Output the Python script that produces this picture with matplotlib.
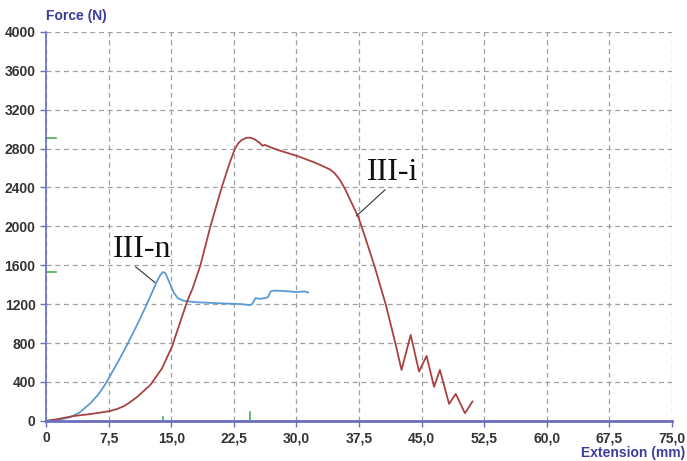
import matplotlib.pyplot as plt
import numpy as np

# curve III-n (blue)
ext_n = [0, 1.5, 2.9, 4.0, 5.3, 6.2, 6.9, 7.6, 8.9, 9.7, 10.7, 11.7, 12.5, 13.26, 13.7,
         14.0, 14.3, 14.8, 15.3, 15.8, 16.5, 18.0, 20.0, 22.0, 23.5, 24.4, 24.7, 25.1,
         25.6, 26.2, 26.6, 26.9, 27.3, 28.5, 30.0, 31.0, 31.4]
force_n = [0, 12, 38, 85, 180, 265, 350, 450, 650, 780, 950, 1130, 1280, 1430, 1500,
           1530, 1520, 1420, 1320, 1260, 1235, 1220, 1212, 1205, 1200, 1190, 1200, 1262,
           1255, 1262, 1272, 1330, 1340, 1335, 1325, 1330, 1320]

# curve III-i (red)
ext_i = [0, 1.5, 3.3, 5.3, 7.6, 8.5, 9.3, 9.9, 10.9, 12.5, 13.9, 15.1, 15.9, 16.9, 17.6,
         18.5, 19.7, 21.05, 22.0, 22.6, 23.0, 23.4, 24.0, 24.5, 25.0, 25.6, 25.95, 26.2,
         27.0, 28.0, 30.1, 32.4, 34.0, 34.6, 35.2, 35.8, 36.4, 37.4, 38.2, 39.4, 40.7, 41.8,
         42.6, 43.7, 44.7, 45.6, 46.5, 47.2, 48.3, 49.1, 50.2, 51.1]
force_i = [0, 20, 50, 70, 100, 122, 150, 182, 245, 370, 540, 765, 970, 1226, 1370,
           1600, 2000, 2400, 2650, 2790, 2850, 2885, 2910, 2912, 2895, 2858, 2828, 2838,
           2810, 2779, 2724, 2649, 2586, 2545, 2480, 2390, 2280, 2100, 1900, 1580, 1200, 820,
           524, 884, 507, 668, 350, 524, 175, 278, 79, 199]

xticks = [0, 7.5, 15, 22.5, 30, 37.5, 45, 52.5, 60, 67.5, 75]
xtick_labels = ["0", "7,5", "15,0", "22,5", "30,0", "37,5", "45,0", "52,5", "60,0", "67,5", "75,0"]
yticks = [0, 400, 800, 1200, 1600, 2000, 2400, 2800, 3200, 3600, 4000]

plt.rcParams["font.family"] = ["Liberation Sans", "DejaVu Sans"]

axis_col = "#6a6ebf"
label_col = "#3a3e9a"

fig = plt.figure(figsize=(6.87, 4.61), dpi=100)
ax = fig.add_axes([0.067, 0.087, 0.911, 0.844])

ax.plot(ext_n, force_n, color="#5b9bd5", lw=1.3)
ax.plot(ext_i, force_i, color="#a84342", lw=1.3)

ax.set_xlim(0, 75)
ax.set_ylim(0, 4000)
ax.set_xticks(xticks)
ax.set_xticklabels(xtick_labels)
ax.set_yticks(yticks)
ax.grid(True, color="#a0a0a0", linestyle=(0, (4, 3)), lw=0.9)
ax.set_axisbelow(True)

for s in ["top", "right"]:
    ax.spines[s].set_visible(False)
ax.spines["left"].set_color(axis_col)
ax.spines["left"].set_linewidth(1.2)
ax.spines["bottom"].set_color(axis_col)
ax.spines["bottom"].set_linewidth(2.0)
ax.tick_params(colors=axis_col, labelcolor="#333333", length=4, width=1)
for lab in ax.get_xticklabels() + ax.get_yticklabels():
    lab.set_fontweight("bold")
    lab.set_fontsize(10)

# peak markers in green on the axes
for xs, ys in [(ext_n, force_n), (ext_i, force_i)]:
    k = int(np.argmax(ys))
    ax.plot([0, 0.016], [ys[k], ys[k]], color="#4caf50", lw=1.2,
            transform=ax.get_yaxis_transform(), clip_on=False)
ax.plot([ext_n[int(np.argmax(force_n))]] * 2, [0, 0.011], color="#4caf50", lw=1.2,
        transform=ax.get_xaxis_transform(), clip_on=False)
ax.plot([ext_i[int(np.argmax(force_i))]] * 2, [0, 0.022], color="#4caf50", lw=1.2,
        transform=ax.get_xaxis_transform(), clip_on=False)

# curve labels
serif = ["Liberation Serif", "DejaVu Serif"]
ax.annotate("III-n", xy=(13.06, 1422), xytext=(11.5, 1686), ha="center", va="baseline",
            fontsize=23, family=serif, color="#111111",
            arrowprops=dict(arrowstyle="-", color="#333333", lw=0.8, shrinkA=0, shrinkB=0,
                            relpos=(0.33, 0.0)))
ax.annotate("III-i", xy=(37.2, 2107), xytext=(41.5, 2477), ha="center", va="baseline",
            fontsize=23, family=serif, color="#111111",
            arrowprops=dict(arrowstyle="-", color="#333333", lw=0.8, shrinkA=0, shrinkB=0,
                            relpos=(0.42, 0.0)))

fig.text(0.067, 0.966, "Force (N)", color=label_col, fontweight="bold", fontsize=10,
         ha="left", va="center")
fig.text(0.997, 0.018, "Extension (mm)", color=label_col, fontweight="bold", fontsize=10,
         ha="right", va="center")

fig.savefig("out.png", dpi=100)
